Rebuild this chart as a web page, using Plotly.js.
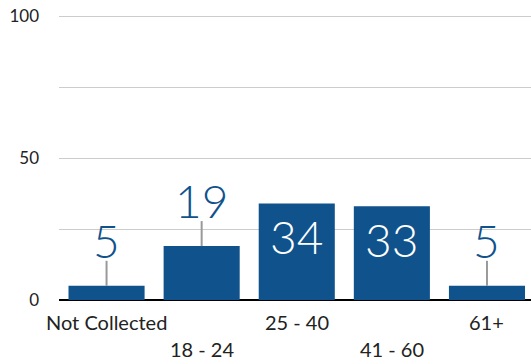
<!DOCTYPE html>
<html>
<head>
<meta charset="utf-8">
<script src="https://cdn.plot.ly/plotly-3.0.1.min.js"></script>
<style>
  html, body { margin: 0; padding: 0; background: #ffffff; overflow: hidden; }
  #chart { width: 531px; height: 364px; }
</style>
</head>
<body>
<div id="chart"></div>
<script>
// Age groups and their counts
const categories = ["Not Collected", "18 - 24", "25 - 40", "41 - 60", "61+"];
const counts = [5, 19, 34, 33, 5];
const yTickValues = [0, 50, 100];

const barColor = "#10528c";
const fontFamily = "Lato, 'Open Sans', sans-serif";

// Tall bars carry their number inside; short ones get it above on a leader line
const insideLimit = 25;

const annotations = [];
const shapes = [];

counts.forEach((v, i) => {
  const cat = categories[i];
  if (v > insideLimit) {
    annotations.push({
      x: cat, y: v, xref: "x", yref: "y",
      text: String(v), showarrow: false,
      yanchor: "top", yshift: -4,
      font: { family: fontFamily, size: 46, color: "#ffffff", weight: 300 }
    });
  } else {
    shapes.push({
      type: "line", xref: "x", yref: "y",
      x0: cat, x1: cat,
      ysizemode: "pixel", yanchor: v, y0: 0, y1: 25,
      line: { color: "#999999", width: 2 }
    });
    annotations.push({
      x: cat, y: v, xref: "x", yref: "y",
      text: String(v), showarrow: false,
      yanchor: "bottom", yshift: 16,
      font: { family: fontFamily, size: 46, color: barColor, weight: 300 }
    });
  }
  // category names alternate between two rows under the axis
  annotations.push({
    x: cat, y: 0, xref: "x", yref: "paper",
    text: cat, showarrow: false,
    yanchor: "top", yshift: i % 2 === 0 ? -8 : -35,
    font: { family: fontFamily, size: 20, color: "#222222" }
  });
});

const trace = {
  type: "bar",
  x: categories,
  y: counts,
  marker: { color: barColor },
  hoverinfo: "x+y"
};

const layout = {
  width: 531,
  height: 364,
  margin: { l: 59, r: 0, t: 15, b: 64 },
  paper_bgcolor: "#ffffff",
  plot_bgcolor: "#ffffff",
  showlegend: false,
  bargap: 0.2,
  font: { family: fontFamily, size: 17, color: "#222222" },
  xaxis: {
    type: "category",
    range: [-0.5, 4.463],
    showticklabels: false,
    ticks: "",
    showgrid: false,
    showline: false,
    zeroline: false
  },
  yaxis: {
    range: [0, 100.4],
    tickvals: yTickValues,
    ticks: "",
    ticklabelstandoff: 19,
    showgrid: true,
    gridcolor: "#cccccc",
    gridwidth: 1,
    minor: { dtick: 25, showgrid: true, gridcolor: "#cccccc", gridwidth: 1, ticks: "" },
    zeroline: true,
    zerolinecolor: "#000000",
    zerolinewidth: 2,
    showline: false,
    tickfont: { family: fontFamily, size: 17, color: "#222222" }
  },
  shapes: shapes,
  annotations: annotations
};

Plotly.newPlot("chart", [trace], layout, { displayModeBar: false, staticPlot: true });
</script>
</body>
</html>
